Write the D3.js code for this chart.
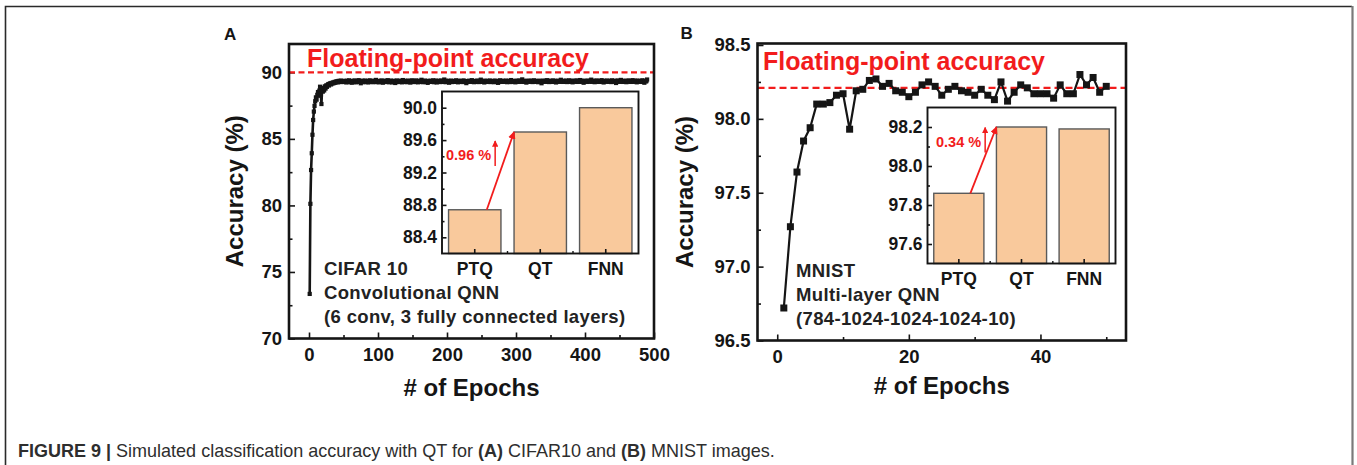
<!DOCTYPE html>
<html>
<head>
<meta charset="utf-8">
<script src="https://cdn.jsdelivr.net/npm/d3@7"></script>
<style>
html, body { margin: 0; padding: 0; background: #fff; }
svg { display: block; }
text { font-family: "Liberation Sans", Arial, Helvetica, sans-serif; }
</style>
</head>
<body>
<svg id="fig" width="1357" height="465"></svg>
<script>
// ---- Data -------------------------------------------------------------
// Test accuracy (%) of the convolutional QNN on CIFAR-10, one value per epoch
const cifarAcc = [
  73.35, 80.12, 82.66, 83.92, 85.31, 86.42, 87.05, 87.48, 87.83, 88.12,
  87.95, 88.31, 88.52, 88.24, 88.63, 88.92, 88.41, 87.62, 88.71, 88.55,
  88.83, 88.64, 88.95, 88.78, 89.02, 88.91, 89.05, 89.12, 89.01, 89.14,
  89.18, 89.09, 89.21, 89.16, 89.24, 89.19, 89.28, 89.22, 89.31, 89.26,
  89.33, 89.25, 89.36, 89.29, 89.31, 89.38, 89.27, 89.34, 89.30, 89.36,
  89.28, 89.35, 89.31, 89.24, 89.37, 89.33, 89.29, 89.40, 89.26, 89.32,
  89.34, 89.22, 89.36, 89.30, 89.27, 89.39, 89.33, 89.25, 89.31, 89.36,
  89.29, 89.41, 89.28, 89.33, 89.18, 89.35, 89.30, 89.37, 89.26, 89.32,
  89.38, 89.27, 89.34, 89.29, 89.36, 89.24, 89.33, 89.40, 89.31, 89.28,
  89.35, 89.30, 89.26, 89.37, 89.32, 89.29, 89.43, 89.27, 89.34, 89.31,
  89.25, 89.36, 89.33, 89.28, 89.39, 89.30, 89.22, 89.35, 89.31, 89.37,
  89.29, 89.34, 89.27, 89.41, 89.32, 89.26, 89.35, 89.30, 89.38, 89.24,
  89.33, 89.29, 89.36, 89.31, 89.20, 89.34, 89.39, 89.28, 89.32, 89.35,
  89.27, 89.37, 89.30, 89.33, 89.25, 89.42, 89.31, 89.29, 89.36, 89.28,
  89.34, 89.26, 89.38, 89.31, 89.29, 89.35, 89.23, 89.33, 89.40, 89.30,
  89.28, 89.36, 89.32, 89.27, 89.39, 89.31, 89.34, 89.25, 89.37, 89.30,
  89.33, 89.29, 89.44, 89.30, 89.26, 89.35, 89.32, 89.38, 89.27, 89.34,
  89.31, 89.21, 89.36, 89.33, 89.28, 89.37, 89.30, 89.34, 89.29, 89.40,
  89.26, 89.35, 89.31, 89.38, 89.24, 89.33, 89.30, 89.36, 89.32, 89.27,
  89.39, 89.30, 89.34, 89.28, 89.35, 89.46, 89.31, 89.26, 89.37, 89.33,
  89.29, 89.36, 89.22, 89.34, 89.31, 89.38, 89.27, 89.33, 89.30, 89.35,
  89.32, 89.28, 89.40, 89.31, 89.35, 89.25, 89.37, 89.30, 89.34, 89.29,
  89.36, 89.31, 89.27, 89.39, 89.33, 89.30, 89.35, 89.19, 89.34, 89.31,
  89.28, 89.37, 89.32, 89.35, 89.29, 89.41, 89.30, 89.33, 89.26, 89.36,
  89.31, 89.34, 89.28, 89.38, 89.32, 89.27, 89.36, 89.30, 89.45, 89.33,
  89.29, 89.35, 89.31, 89.24, 89.37, 89.33, 89.30, 89.36, 89.28, 89.34,
  89.32, 89.39, 89.27, 89.33, 89.30, 89.35, 89.31, 89.26, 89.38, 89.32,
  89.35, 89.29, 89.34, 89.21, 89.36, 89.31, 89.40, 89.30, 89.33, 89.28,
  89.37, 89.32, 89.29, 89.35, 89.31, 89.38, 89.26, 89.34, 89.30, 89.36,
  89.33, 89.27, 89.42, 89.31, 89.35, 89.29, 89.34, 89.32, 89.25, 89.37,
  89.30, 89.36, 89.33, 89.28, 89.39, 89.31, 89.35, 89.30, 89.47, 89.32,
  89.28, 89.34, 89.31, 89.37, 89.23, 89.35, 89.32, 89.29, 89.36, 89.31,
  89.38, 89.30, 89.34, 89.27, 89.33, 89.40, 89.31, 89.36, 89.29, 89.34,
  89.32, 89.26, 89.37, 89.31, 89.35, 89.30, 89.18, 89.33, 89.38, 89.31,
  89.34, 89.29, 89.36, 89.32, 89.41, 89.30, 89.35, 89.27, 89.33, 89.37,
  89.31, 89.35, 89.28, 89.39, 89.32, 89.30, 89.36, 89.24, 89.34, 89.31,
  89.37, 89.33, 89.29, 89.35, 89.44, 89.31, 89.34, 89.28, 89.36, 89.32,
  89.30, 89.38, 89.33, 89.27, 89.35, 89.31, 89.40, 89.29, 89.34, 89.36,
  89.32, 89.25, 89.37, 89.33, 89.30, 89.36, 89.31, 89.39, 89.28, 89.35,
  89.33, 89.29, 89.42, 89.31, 89.36, 89.30, 89.34, 89.22, 89.37, 89.32,
  89.35, 89.31, 89.28, 89.38, 89.33, 89.30, 89.36, 89.32, 89.45, 89.29,
  89.34, 89.37, 89.31, 89.26, 89.35, 89.32, 89.39, 89.30, 89.34, 89.28,
  89.36, 89.32, 89.29, 89.41, 89.33, 89.35, 89.24, 89.37, 89.31, 89.34,
  89.30, 89.38, 89.33, 89.36, 89.29, 89.35, 89.32, 89.27, 89.40, 89.31,
  89.34, 89.30, 89.37, 89.33, 89.20, 89.36, 89.31, 89.38, 89.29, 89.35,
  89.32, 89.43, 89.30, 89.34, 89.28, 89.37, 89.33, 89.31, 89.36, 89.26,
  89.35, 89.31, 89.39, 89.32, 89.30, 89.36, 89.28, 89.34, 89.41, 89.33,
  89.29, 89.37, 89.32, 89.35, 89.25, 89.38, 89.31, 89.34, 89.30, 89.36,
  89.33, 89.28, 89.40, 89.31, 89.35, 89.22, 89.37, 89.32, 89.34, 89.46
];

// Test accuracy (%) of the multi-layer QNN on MNIST, epochs 1..50
const mnistAcc = [
  96.72, 97.27, 97.64, 97.85, 97.94, 98.10, 98.10, 98.11, 98.16, 98.17,
  97.93, 98.19, 98.20, 98.26, 98.27, 98.22, 98.24, 98.19, 98.18, 98.15,
  98.18, 98.23, 98.25, 98.22, 98.16, 98.20, 98.22, 98.19, 98.18, 98.16,
  98.20, 98.16, 98.13, 98.25, 98.12, 98.18, 98.23, 98.21, 98.17, 98.17,
  98.17, 98.14, 98.23, 98.17, 98.17, 98.30, 98.23, 98.28, 98.18, 98.22
];

// Inset comparison: post-training quantization, quantized training, full-precision network
const barCategories = ["PTQ", "QT", "FNN"];
const cifarBars = [88.74, 89.70, 90.00];
const mnistBars = [97.86, 98.20, 98.19];

// Floating-point reference accuracy (%)
const cifarFloatAcc = 90.0;
const mnistFloatAcc = 98.21;

// Tick values
const cifarXTicks = [0, 100, 200, 300, 400, 500];
const cifarXMinor = [50, 150, 250, 350, 450];
const cifarYTicks = [70, 75, 80, 85, 90];
const cifarYMinor = [72.5, 77.5, 82.5, 87.5];
const mnistXTicks = [0, 20, 40];
const mnistXMinor = [10, 30, 50];
const mnistYTicks = [96.5, 97.0, 97.5, 98.0, 98.5];
const mnistYMinor = [96.75, 97.25, 97.75, 98.25];
const cifarInsetTicks = [88.4, 88.8, 89.2, 89.6, 90.0];
const cifarInsetMinor = [88.6, 89.0, 89.4, 89.8];
const mnistInsetTicks = [97.6, 97.8, 98.0, 98.2];
const mnistInsetMinor = [97.7, 97.9, 98.1];

// Text
const cifarNotes = ["CIFAR 10", "Convolutional QNN", "(6 conv, 3 fully connected layers)"];
const mnistNotes = ["MNIST", "Multi-layer QNN", "(784-1024-1024-1024-10)"];
const cifarGain = "0.96 %";
const mnistGain = "0.34 %";
const floatLabel = "Floating-point accuracy";
const yTitle = "Accuracy (%)";
const xTitle = "# of Epochs";

// ---- Drawing ------------------------------------------------------------
const svg = d3.select("#fig");
const RED = "#f21c1c";
const INK = "#151515";
const BAR_FILL = "#f9c99c";

const defs = svg.append("defs");
defs.append("marker")
  .attr("id", "redHead")
  .attr("viewBox", "0 0 10 10")
  .attr("refX", 9).attr("refY", 5)
  .attr("markerWidth", 4.2).attr("markerHeight", 4.2)
  .attr("markerUnits", "strokeWidth")
  .attr("orient", "auto")
  .append("path").attr("d", "M0,0 L10,5 L0,10 Z").attr("fill", RED);

// outer figure frame (open at the bottom)
svg.append("path").attr("d", "M5.5,465 V6.5 H1352").attr("fill", "none")
  .attr("stroke", "#2a2a2a").attr("stroke-width", 1.6);
svg.append("path").attr("d", "M1352.5,6 V465").attr("fill", "none")
  .attr("stroke", "#7a7a7a").attr("stroke-width", 2.2);

function styleAxis(sel, size) {
  sel.select(".domain").remove();
  sel.selectAll("line").attr("stroke", INK).attr("stroke-width", 1.6);
  sel.selectAll("text")
    .attr("font-family", "'Liberation Sans', Arial, sans-serif")
    .attr("font-weight", "bold").attr("font-size", size).attr("fill", INK);
}

function drawPanel(c) {
  const g = svg.append("g");
  const x = d3.scaleLinear().domain(c.xDomain).range([c.left, c.right]);
  const y = d3.scaleLinear().domain(c.yDomain).range([c.bottom, c.top]);

  // axes (inward ticks, Origin style)
  g.append("g").attr("transform", `translate(${c.left},0)`)
    .call(d3.axisLeft(y).tickValues(c.yTicks).tickFormat(c.yFmt)
      .tickSizeInner(-6).tickSizeOuter(0).tickPadding(7))
    .call(s => styleAxis(s, 18.5));
  g.append("g").attr("transform", `translate(${c.left},0)`)
    .call(d3.axisLeft(y).tickValues(c.yMinor).tickFormat("").tickSizeInner(-3.5).tickSizeOuter(0))
    .call(s => styleAxis(s, 18.5));
  g.append("g").attr("transform", `translate(0,${c.bottom})`)
    .call(d3.axisBottom(x).tickValues(c.xTicks).tickFormat(d3.format("d"))
      .tickSizeInner(-6).tickSizeOuter(0).tickPadding(9))
    .call(s => styleAxis(s, 18.5));
  g.append("g").attr("transform", `translate(0,${c.bottom})`)
    .call(d3.axisBottom(x).tickValues(c.xMinor).tickFormat("").tickSizeInner(-3.5).tickSizeOuter(0))
    .call(s => styleAxis(s, 18.5));

  // floating-point reference
  g.append("line")
    .attr("x1", c.left).attr("x2", c.right)
    .attr("y1", y(c.floatAcc)).attr("y2", y(c.floatAcc))
    .attr("stroke", RED).attr("stroke-width", 2.2)
    .attr("stroke-dasharray", c.dash);
  g.append("text").text(floatLabel)
    .attr("x", c.left + c.floatDx).attr("y", c.floatBase)
    .attr("font-size", 25).attr("font-weight", "bold").attr("fill", RED);

  // accuracy curve
  const pts = c.acc.map((v, i) => ({ e: i + 1, v }));
  g.append("path").datum(pts)
    .attr("fill", "none").attr("stroke", INK).attr("stroke-width", c.lineW)
    .attr("stroke-linejoin", "round")
    .attr("d", d3.line().x(d => x(d.e)).y(d => y(d.v)));
  g.append("g").selectAll("rect").data(pts).join("rect")
    .attr("x", d => x(d.e) - c.marker / 2).attr("y", d => y(d.v) - c.marker / 2)
    .attr("width", c.marker).attr("height", c.marker).attr("fill", INK);

  // plot frame
  g.append("rect").attr("x", c.left).attr("y", c.top)
    .attr("width", c.right - c.left).attr("height", c.bottom - c.top)
    .attr("fill", "none").attr("stroke", INK).attr("stroke-width", 2.6);

  // axis titles and panel letter
  g.append("text").text(yTitle)
    .attr("transform", `translate(${c.yTitleX},${(c.top + c.bottom) / 2}) rotate(-90)`)
    .attr("text-anchor", "middle").attr("dy", "0.35em")
    .attr("font-size", 24).attr("font-weight", "bold").attr("fill", INK);
  g.append("text").text(xTitle)
    .attr("x", (c.left + c.right) / 2).attr("y", c.xTitleY)
    .attr("text-anchor", "middle")
    .attr("font-size", 24).attr("font-weight", "bold").attr("fill", INK);
  g.append("text").text(c.letter)
    .attr("x", c.letterX).attr("y", c.letterY)
    .attr("font-size", 17).attr("font-weight", "bold").attr("fill", INK);

  // dataset / network notes
  g.append("g").selectAll("text").data(c.notes).join("text")
    .text(d => d)
    .attr("x", c.notesX).attr("y", (d, i) => c.notesY + i * 24.2)
    .attr("font-size", 18.5).attr("font-weight", "bold")
    .attr("letter-spacing", 0.35).attr("fill", "#222");

  // ---- inset bar chart ----
  const ins = c.inset;
  const xb = d3.scaleBand().domain(barCategories).range([ins.left, ins.right])
    .paddingInner(0.2).paddingOuter(0.1);
  const yb = d3.scaleLinear().domain(ins.yDomain).range([ins.bottom, ins.top]);
  const gi = g.append("g");
  gi.append("rect").attr("x", ins.left).attr("y", ins.top)
    .attr("width", ins.right - ins.left).attr("height", ins.bottom - ins.top)
    .attr("fill", "#fff");
  gi.append("g").selectAll("rect").data(ins.values).join("rect")
    .attr("x", (d, i) => xb(barCategories[i]))
    .attr("y", d => yb(d))
    .attr("width", xb.bandwidth())
    .attr("height", d => ins.bottom - yb(d))
    .attr("fill", BAR_FILL).attr("stroke", "#5a5a5a").attr("stroke-width", 1.4);

  gi.append("g").attr("transform", `translate(${ins.left},0)`)
    .call(d3.axisLeft(yb).tickValues(ins.ticks).tickFormat(d3.format(".1f"))
      .tickSizeInner(-4.5).tickSizeOuter(0).tickPadding(5))
    .call(s => styleAxis(s, 17.5));
  gi.append("g").attr("transform", `translate(${ins.left},0)`)
    .call(d3.axisLeft(yb).tickValues(ins.minor).tickFormat("").tickSizeInner(-2.5).tickSizeOuter(0))
    .call(s => styleAxis(s, 17.5));
  gi.append("g").attr("transform", `translate(0,${ins.bottom})`)
    .call(d3.axisBottom(xb).tickSizeInner(-4.5).tickSizeOuter(0).tickPadding(9))
    .call(s => styleAxis(s, 17.5));
  // minor ticks between categories
  const between = barCategories.slice(1).map(k => xb(k) - xb.step() * xb.paddingInner() / 2);
  gi.append("g").selectAll("line").data(between).join("line")
    .attr("x1", d => d).attr("x2", d => d)
    .attr("y1", ins.bottom).attr("y2", ins.bottom - 2.5)
    .attr("stroke", INK).attr("stroke-width", 1.4);
  gi.append("rect").attr("x", ins.left).attr("y", ins.top)
    .attr("width", ins.right - ins.left).attr("height", ins.bottom - ins.top)
    .attr("fill", "none").attr("stroke", INK).attr("stroke-width", 1.9);

  // gain arrow from PTQ to QT
  gi.append("line")
    .attr("x1", xb("PTQ") + xb.bandwidth() * 0.73).attr("y1", yb(ins.values[0]))
    .attr("x2", xb("QT")).attr("y2", yb(ins.values[1]))
    .attr("stroke", RED).attr("stroke-width", 1.8)
    .attr("marker-end", "url(#redHead)");
  const gainText = gi.append("text").text(ins.gain)
    .attr("x", ins.left + ins.gainDx).attr("y", ins.gainY)
    .attr("font-size", 14.5).attr("font-weight", "bold").attr("fill", RED);
  const gx = ins.left + ins.gainDx + gainText.node().getComputedTextLength() + 4;
  gi.append("line")
    .attr("x1", gx).attr("x2", gx)
    .attr("y1", ins.gainY + 6).attr("y2", ins.gainY - 19)
    .attr("stroke", RED).attr("stroke-width", 1.5)
    .attr("marker-end", "url(#redHead)");
}

drawPanel({
  letter: "A", letterX: 224, letterY: 40,
  left: 289, right: 654, top: 44, bottom: 338.5,
  xDomain: [-29, 500], yDomain: [70, 92.13],
  xTicks: cifarXTicks, xMinor: cifarXMinor,
  yTicks: cifarYTicks, yMinor: cifarYMinor, yFmt: d3.format("d"),
  acc: cifarAcc, marker: 4.2, lineW: 2.6,
  floatAcc: cifarFloatAcc, floatDx: 18, floatBase: 66.5, dash: "6,3.5",
  yTitleX: 235, xTitleY: 395.5,
  notes: cifarNotes, notesX: 324, notesY: 275,
  inset: {
    left: 442, right: 638.5, top: 91.5, bottom: 253.5,
    yDomain: [88.2, 90.2], ticks: cifarInsetTicks, minor: cifarInsetMinor,
    values: cifarBars, gain: cifarGain, gainDx: 4, gainY: 160
  }
});

drawPanel({
  letter: "B", letterX: 680.5, letterY: 39,
  left: 757.5, right: 1126, top: 43.5, bottom: 340.5,
  xDomain: [-3, 53], yDomain: [96.5, 98.51],
  xTicks: mnistXTicks, xMinor: mnistXMinor,
  yTicks: mnistYTicks, yMinor: mnistYMinor, yFmt: d3.format(".1f"),
  acc: mnistAcc, marker: 7, lineW: 2.2,
  floatAcc: mnistFloatAcc, floatDx: 5.5, floatBase: 70, dash: "7,4",
  yTitleX: 685, xTitleY: 393.5,
  notes: mnistNotes, notesX: 796, notesY: 277,
  inset: {
    left: 927.5, right: 1115.5, top: 107.5, bottom: 263.5,
    yDomain: [97.5, 98.3], ticks: mnistInsetTicks, minor: mnistInsetMinor,
    values: mnistBars, gain: mnistGain, gainDx: 8.5, gainY: 146.5
  }
});

// ---- Caption ----------------------------------------------------------------
const cap = svg.append("text")
  .attr("font-family", "'Liberation Sans Narrow', 'Arial Narrow', 'Liberation Sans', sans-serif")
  .attr("font-size", 17.5).attr("fill", "#2e2e2e");
const capParts = [
  ["FIGURE 9 | ", "bold"],
  ["Simulated classification accuracy with QT for ", "normal"],
  ["(A)", "bold"],
  [" CIFAR10 and ", "normal"],
  ["(B)", "bold"],
  [" MNIST images.", "normal"]
];
capParts.forEach(([t, w]) => cap.append("tspan").attr("font-weight", w).text(t));
const capW = cap.node().getComputedTextLength();
cap.attr("transform", `translate(18,457) scale(${757 / capW},1)`);
</script>
</body>
</html>
